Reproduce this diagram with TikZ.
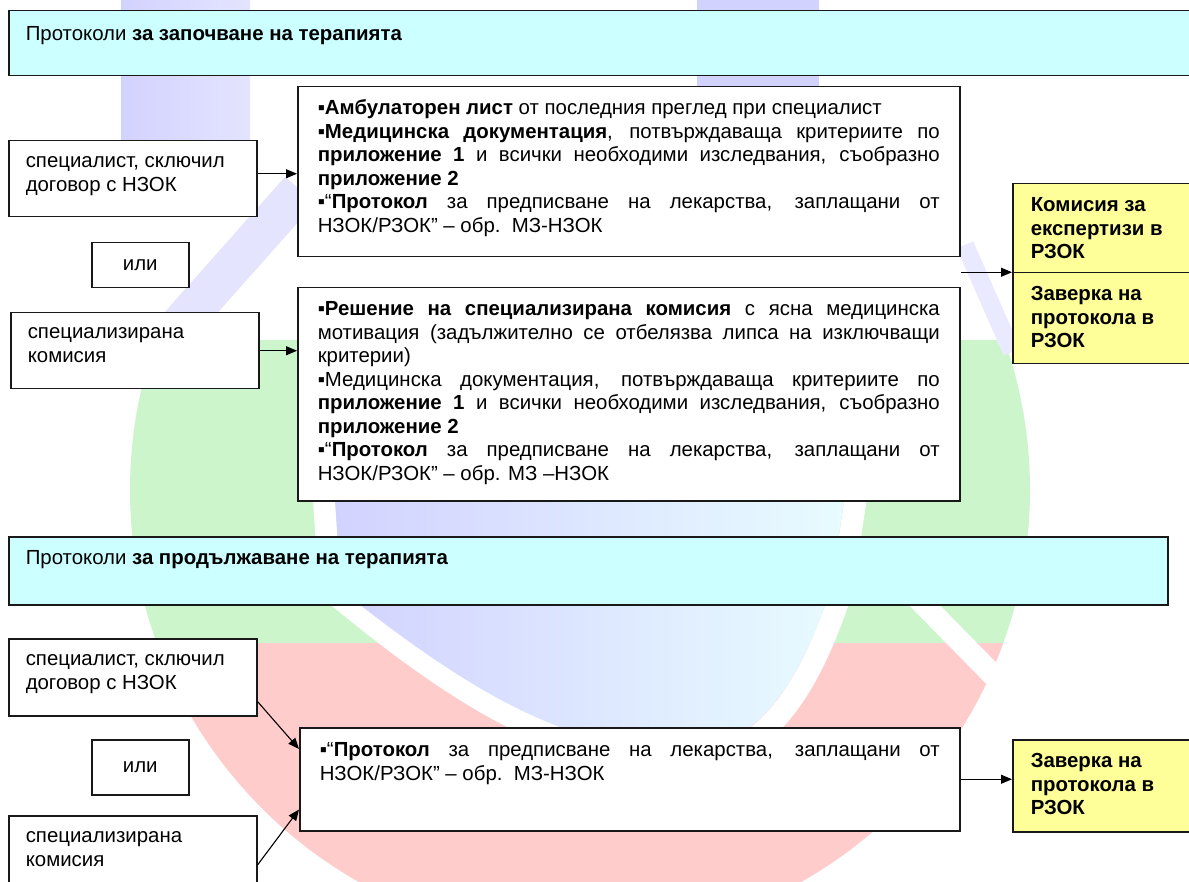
\documentclass[tikz,border=0pt]{standalone}
\usepackage{fontspec}
\setmainfont{Liberation Sans}
\usetikzlibrary{arrows.meta,calc}
\definecolor{hdr}{HTML}{CCFFFF}
\definecolor{ylw}{HTML}{FFFF99}
\definecolor{wmgreen}{HTML}{CCF5CC}
\definecolor{wmred}{HTML}{FFCCCC}
\definecolor{wmblue}{HTML}{D2D2FF}
\definecolor{wmcyan}{HTML}{E8FCFF}
\newcommand{\cellbox}[4]{\parbox[c][#2][t]{#1}{\vspace*{#3}\rule{0pt}{16pt}#4}}
\newcommand{\jl}[1]{\makebox[\linewidth][s]{#1}}
\tikzset{
  box/.style={draw=black!90, line width=1.5pt, fill=white, inner ysep=0pt, anchor=north west,
    font=\fontsize{20.4}{23.5}\selectfont},
  hdrbox/.style={box, fill=hdr, inner xsep=17pt},
  ybox/.style={box, fill=ylw, inner xsep=18pt},
  leftbox/.style={box, inner xsep=17pt},
  docbox/.style={box, inner xsep=20pt},
  orbox/.style={box, inner xsep=0pt, minimum width=97pt, align=center},
  conn/.style={line width=1.1pt, -{Triangle[length=11pt,width=9pt]}},
  wmband/.style={line width=#1, line cap=butt},
}
\begin{document}
\begin{tikzpicture}[x=1pt,y=-1pt]
\useasboundingbox (0,0) rectangle (1189,882);
\clip (0,0) rectangle (1189,882);
% ---------- faint watermark ----------
\begin{scope}
  \clip (580,490) circle[radius=450pt];
  \fill[wmgreen] (0,340) rectangle (1189,643);
  \fill[wmred] (0,643) rectangle (1189,950);
\end{scope}
% blue strokes at the top
\shade[left color=wmblue, right color=wmblue!60!white] (121,0) -- (250,0) -- (250,140) -- (121,140) -- cycle;
\draw[wmblue!60!white, wmband=40pt] (180,325) -- (300,190);
\fill[wmblue] (697,0) rectangle (819,90);
\draw[wmblue!50!white, wmband=18pt] (965,245) -- (1012,352);
% U-shaped blue body with white rim
\draw[white, line width=22pt] (322,470) -- (330,590) .. controls (450,690) and (560,762) .. (680,762)
   .. controls (770,762) and (812,680) .. (842,590) -- (860,470);
\shade[left color=wmblue, right color=wmcyan] (333,470) -- (341,590) .. controls (455,680) and (560,750) .. (680,750)
   .. controls (760,750) and (800,680) .. (830,590) -- (849,470) -- cycle;
\draw[white, wmband=22pt] (885,565) -- (1045,728);
% ---------- section 1 ----------
\node[hdrbox] (h1) at (8,10) {\cellbox{1158pt}{65pt}{14pt}{Протоколи \textbf{за започване на терапията}}};
\node[leftbox] (s1) at (8,140) {\cellbox{214pt}{76pt}{11pt}{специалист, сключил\\договор с НЗОК}};
\node[orbox, minimum height=45pt] (o1) at (91,242) {или};
\node[leftbox] (c1) at (10,312) {\cellbox{214pt}{76pt}{10pt}{специализирана\\комисия}};
\node[docbox] (d1) at (297,86) {\cellbox{622pt}{170pt}{12pt}{%
▪\textbf{Амбулаторен лист} от последния преглед при специалист\\
\jl{▪\textbf{Медицинска документация}, потвърждаваща критериите по}\\
\jl{\textbf{приложение 1} и всички необходими изследвания, съобразно}\\
\textbf{приложение 2}\\
\jl{▪“\textbf{Протокол} за предписване на лекарства, заплащани от}\\
НЗОК/РЗОК” – обр.\ \ МЗ-НЗОК}};
\node[docbox] (d2) at (297,287) {\cellbox{622pt}{213pt}{12pt}{%
\jl{▪\textbf{Решение на специализирана комисия} с ясна медицинска}\\
\jl{мотивация (задължително се отбелязва липса на изключващи}\\
критерии)\\
\jl{▪Медицинска документация, потвърждаваща критериите по}\\
\jl{\textbf{приложение 1} и всички необходими изследвания, съобразно}\\
\textbf{приложение 2}\\
\jl{▪“\textbf{Протокол} за предписване на лекарства, заплащани от}\\
НЗОК/РЗОК” – обр. МЗ –НЗОК}};
\node[ybox] (yk) at (1012,183) {\cellbox{152pt}{89pt}{12pt}{\textbf{Комисия за\\експертизи в\\РЗОК}}};
\node[ybox] (yz) at (1012,272) {\cellbox{152pt}{91pt}{12pt}{\textbf{Заверка на\\протокола в\\РЗОК}}};
\draw[conn] ([yshift=5pt]s1.east) -- ([yshift=5pt]s1.east -| d1.west);
\draw[conn] (c1.east) -- (c1.east -| d2.west);
\coordinate (gap) at ($(d1.south east)!.5!(d2.north east)$);
\draw[conn] (gap) -- (gap -| yk.west);
% ---------- section 2 ----------
\node[hdrbox] (h2) at (8,536) {\cellbox{1125pt}{68pt}{12pt}{Протоколи \textbf{за продължаване на терапията}}};
\node[leftbox] (s2) at (8,638) {\cellbox{214pt}{77pt}{11pt}{специалист, сключил\\договор с НЗОК}};
\node[orbox, minimum height=55pt] (o2) at (91,739) {или};
\node[leftbox] (c2) at (8,815) {\cellbox{214pt}{90pt}{11pt}{специализирана\\комисия}};
\node[docbox] (d3) at (299,727) {\cellbox{620pt}{103pt}{13pt}{%
\jl{▪“\textbf{Протокол} за предписване на лекарства, заплащани от}\\
НЗОК/РЗОК” – обр.\ \ МЗ-НЗОК}};
\node[ybox] (y2) at (1012,739) {\cellbox{152pt}{92pt}{12pt}{\textbf{Заверка на\\протокола в\\РЗОК}}};
\draw[conn] ([yshift=15pt]s2.south east) -- ([yshift=-22pt]d3.north west);
\draw[conn] ([yshift=-50pt]c2.north east) -- ([yshift=22pt]d3.south west);
\draw[conn] (d3.east) -- (d3.east -| y2.west);
\end{tikzpicture}
\end{document}
